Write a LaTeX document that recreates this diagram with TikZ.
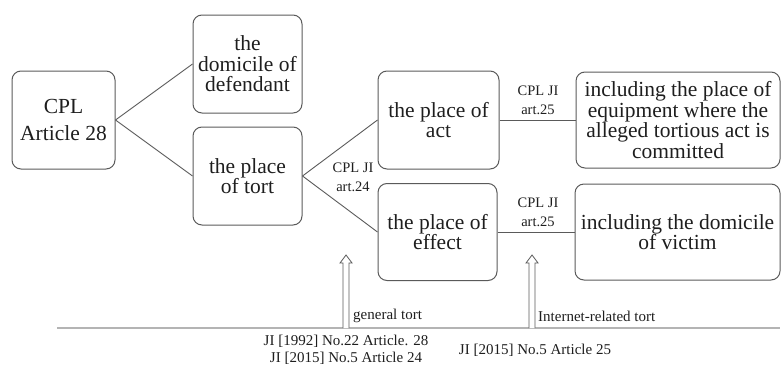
\documentclass[tikz,border=0pt]{standalone}
\usepackage{fontspec}
\setmainfont{Liberation Serif}
\usetikzlibrary{calc}
\definecolor{edge}{HTML}{5A5A5A}
\definecolor{rulegray}{HTML}{B4B4B4}
\definecolor{ink}{HTML}{1E1E1E}

\begin{document}
\begin{tikzpicture}[x=1pt,y=-1pt,
  box/.style={draw=edge, line width=1pt, rounded corners=9pt, inner sep=0pt,
    align=center, text=ink, font=\fontsize{21.5}{20.5}\selectfont},
  link/.style={draw=edge, line width=0.9pt},
  law/.style={font=\fontsize{14.5}{19}\selectfont, text=ink, align=center, inner sep=0pt},
  src/.style={font=\fontsize{15}{16.5}\selectfont, text=ink, align=center, inner sep=0pt},
  hollow/.style={draw=edge, fill=white, line width=0.8pt, line join=miter}]

\useasboundingbox (0,0) rectangle (781,367);

% boxes
\node[box, minimum width=103pt, minimum height=98pt] (art) at (63.5,120) {CPL\\[6pt]Article 28};
\node[box, minimum width=109pt, minimum height=98pt] (dom) at (247.5,64) {the\\domicile of\\defendant};
\node[box, minimum width=109pt, minimum height=98pt] (tort) at (247.5,176) {the place\\of tort};
\node[box, minimum width=121pt, minimum height=98pt] (act) at (438.5,120) {the place of\\act};
\node[box, minimum width=119pt, minimum height=97pt] (eff) at (437.5,232) {the place of\\effect};
\node[box, minimum width=204pt, minimum height=96pt] (equip) at (678,120)
  {including the place of\\equipment where the\\alleged tortious act is\\committed};
\node[box, minimum width=205pt, minimum height=96pt] (victim) at (677.5,232)
  {including the domicile\\of victim};

% connectors
\draw[link] (art.east) -- (dom.west);
\draw[link] (art.east) -- (tort.west);
\draw[link] (tort.east) -- (act.west);
\draw[link] (tort.east) -- (eff.west);
\draw[link] (act.east) -- (equip.west);
\draw[link] (eff.east) -- (victim.west);

% connector labels
\node[law] (l24) at (353,177) {CPL JI\\art.24};
\node[law] (l25a) at (538,100) {CPL JI\\art.25};
\node[law] (l25b) at (538,212) {CPL JI\\art.25};

% base rule
\coordinate (ruleL) at (57,328);
\coordinate (ruleR) at (780,328);
\draw[rulegray, line width=1.2pt] (ruleL) -- (ruleR);

% hollow arrows standing on the rule
\coordinate (g1) at (346,328);
\coordinate (g2) at (532,328);
\foreach \c in {g1,g2}
  \draw[hollow] (\c) ++(-3,0) -- ++(0,-65) -- ++(-3,0) -- ++(6,-8) -- ++(6,8)
    -- ++(-3,0) -- ++(0,65);

\node[src, anchor=west] (gen) at (353,316) {general tort};
\node[src, anchor=west] (net) at (538,316) {Internet-related tort};

\node[src] (srcA) at (346,350) {JI [1992] No.22 Article. 28\\JI [2015] No.5 Article 24};
\node[src] (srcB) at (535,350) {JI [2015] No.5 Article 25};
\end{tikzpicture}
\end{document}
